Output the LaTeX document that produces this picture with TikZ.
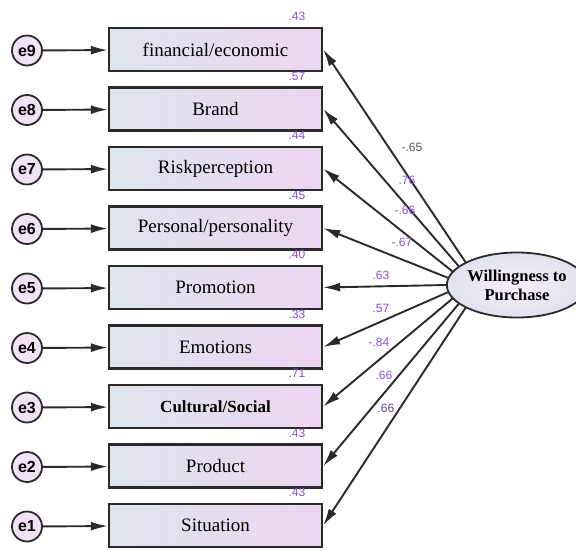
\documentclass[tikz,border=0pt]{standalone}
\usepackage{fontspec}
\setmainfont{Liberation Serif}
\setsansfont{Liberation Sans}
\usetikzlibrary{shapes.geometric, arrows.meta}

\definecolor{boxleft}{HTML}{DDE6EC}
\definecolor{boxright}{HTML}{EDD5F3}
\definecolor{edge}{HTML}{2A2A2A}
\definecolor{coef}{HTML}{8A4FD8}

\tikzset{
  varbox/.style={draw=edge, line width=2.4pt, left color=boxleft, right color=boxright,
                 minimum width=213pt, minimum height=43pt, inner sep=0pt,
                 font=\fontsize{19}{22}\selectfont},
  errnode/.style={circle, draw=edge, line width=1.8pt, fill=boxright!70,
                  minimum size=30pt, inner sep=0pt, font=\sffamily\bfseries\fontsize{16}{18}\selectfont},
  rsq/.style={text=coef, font=\sffamily\fontsize{12}{14}\selectfont},
  load/.style={text=coef, font=\sffamily\fontsize{12}{14}\selectfont},
  path/.style={line width=1.9pt, draw=edge, -{Latex[length=17pt, width=9pt]}}
}

\begin{document}
\begin{tikzpicture}[x=1pt, y=-1pt]
  \useasboundingbox (0,0) rectangle (576,550);

  % latent variable
  \node[ellipse, draw=edge, line width=1.8pt, inner color=boxright!40, outer color=boxleft!80!boxright,
        minimum width=117pt, minimum height=65pt, inner sep=0pt, align=center,
        font=\bfseries\fontsize{16.5}{19}\selectfont] (wtp) at (517,285) {Willingness to\\Purchase};

  % observed variables with errors
  \foreach \i/\txt/\r/\e in {1/{financial/economic}/.43/9, 2/Brand/.57/8,
                             3/Riskperception/.44/7, 4/{Personal/personality}/.45/6,
                             5/Promotion/.40/5, 6/Emotions/.33/4,
                             7/{\textbf{\fontsize{17}{20}\selectfont Cultural/Social}}/.71/3,
                             8/Product/.43/2, 9/Situation/.43/1}{
    \node[varbox] (b\i) at (215.5, {49.5+59.5*(\i-1)}) {\txt};
    \node[errnode] (e\e) at (27, {50.5+59.5*(\i-1)}) {e\e};
    \node[rsq] (r\i) at (297, {16.5+59.5*(\i-1)}) {\r};
    \draw[path] (e\e) -- (b\i);
    \draw[path] (wtp.{180-6*(5-\i)}) -- (b\i.east);
  }

  % loadings
  \node[load, text=edge!80] (l1) at (412,147) {-.65};
  \node[load] (l2) at (407,180) {.76};
  \node[load] (l3) at (405,210) {-.66};
  \node[load] (l4) at (402,242) {-.67};
  \node[load] (l5) at (381,275) {.63};
  \node[load] (l6) at (381,308) {.57};
  \node[load] (l7) at (379,342) {-.84};
  \node[load] (l8) at (384,375) {.66};
  \node[load, text=coef!60!edge] (l9) at (386,408) {.66};
\end{tikzpicture}
\end{document}
